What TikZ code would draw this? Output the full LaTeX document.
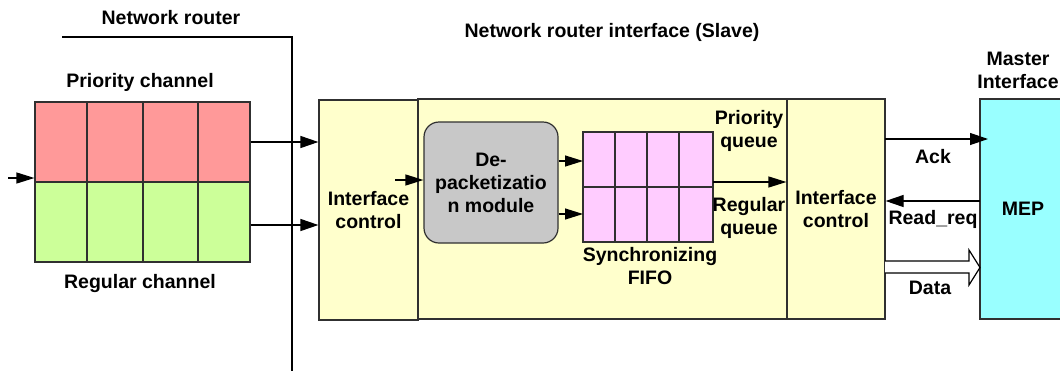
\documentclass[tikz,border=0pt]{standalone}
\usepackage{fontspec}
\setmainfont{Liberation Sans}
\usetikzlibrary{arrows.meta}
\definecolor{chred}{HTML}{FF9999}
\definecolor{chgreen}{HTML}{CCFF99}
\definecolor{boxyellow}{HTML}{FFFFCC}
\definecolor{modgray}{HTML}{C8C8C8}
\definecolor{fifopink}{HTML}{FFCCFF}
\definecolor{mepcyan}{HTML}{99FFFF}
\definecolor{edge}{HTML}{303030}
\tikzset{
  lbl/.style={font=\fontsize{19.5}{23}\selectfont\bfseries, align=center, inner sep=0pt},
  blk/.style={draw=edge, line width=1.2pt, inner sep=0pt, anchor=center},
  arr/.style={line width=1.2pt, -{Triangle[length=18pt,width=12pt]}},
  sarr/.style={line width=1.2pt, -{Triangle[length=18pt,width=11pt]}},
}
\begin{document}
\begin{tikzpicture}[x=1pt,y=-1pt]
\useasboundingbox (0,0) rectangle (1060,370);
\begin{scope}
\clip (0,0) rectangle (1060,370);
% router boundary
\coordinate (r0) at (62,37);
\coordinate (r1) at (292,37);
\coordinate (r2) at (292,372);
\draw[line width=1.2pt] (r0) -- (r1) -- (r2);
\node[lbl] (nr) at (171,18) {Network router};
\node[lbl] (nri) at (612,32) {Network router interface (Slave)};

% channels
\node[blk, fill=chred, minimum width=215pt, minimum height=80pt] (pc) at (142.5,142) {};
\node[blk, fill=chgreen, minimum width=215pt, minimum height=80pt] (rc) at (142.5,222) {};
\foreach \xx in {87,143,198} {
  \draw[line width=1.2pt, edge] (\xx,102) -- (\xx,262);
}
\node[lbl] (pcl) at (140,82) {Priority channel};
\node[lbl] (rcl) at (140,283) {Regular channel};
\coordinate (in0) at (8,178);
\draw[sarr] (in0) -- (in0 -| pc.west);

% interface boxes
\node[blk, fill=boxyellow, minimum width=369pt, minimum height=220pt] (big) at (602.5,209) {};
\node[blk, fill=boxyellow, minimum width=99pt, minimum height=220pt] (ic1) at (368.5,210) {};
\node[blk, fill=boxyellow, minimum width=98pt, minimum height=220pt] (ic2) at (836,209) {};
\node[lbl] at (ic1.center) {Interface\\control};
\node[lbl] at (ic2.center) {Interface\\control};

\draw[arr] (pc.east) -- (pc.east -| ic1.west);
\draw[arr] ([yshift=-3pt]rc.east) -- ([yshift=-3pt]rc.east -| ic1.west);

% depacketization
\node[blk, fill=modgray, rounded corners=15pt, minimum width=134pt, minimum height=121pt, lbl] (dp) at (491,182.5) {De-\\packetizatio\\n module};
\coordinate (d0) at (395,180);
\draw[sarr] (d0) -- (d0 -| dp.west);

% FIFO
\node[blk, fill=fifopink, minimum width=130pt, minimum height=110pt] (ff) at (648,187) {};
\draw[line width=1.2pt, edge] (ff.west) -- (ff.east);
\foreach \xx in {615,647,679} {
  \draw[line width=1.2pt, edge] (\xx,132) -- (\xx,242);
}
\coordinate (f1) at (583,161);
\coordinate (f2) at (583,214);
\draw[sarr] (dp.east |- f1) -- (f1);
\draw[sarr] (dp.east |- f2) -- (f2);
\coordinate (f3) at (713,182);
\draw[sarr] (f3) -- (f3 -| ic2.west);
\node[lbl] (pq) at (749,131) {Priority\\queue};
\node[lbl] (rq) at (749,218) {Regular\\queue};
\node[lbl] (sf) at (650,266) {Synchronizing\\FIFO};

% MEP
\node[blk, fill=mepcyan, minimum width=90pt, minimum height=220pt] (mep) at (1025,209) {};
\node[lbl] (mepl) at (1023,209) {MEP};
\node[lbl] (mi) at (1018,70) {Master\\Interface};

% Ack
\coordinate (a0) at (885,139);
\coordinate (a1) at (988,139);
\draw[arr] (a0) -- (a1);
\node[lbl] (ack) at (933,157) {Ack};
% Read_req
\coordinate (rr) at (980,201);
\draw[arr] (rr) -- (rr -| ic2.east);
\node[lbl] (rql) at (933,219) {Read\_req};
% Data hollow arrow
\draw[line width=1.2pt, fill=white]
  (885,261) -- (969,261) -- (969,250) -- (980,267.5) -- (969,285) -- (969,273) -- (885,273);
\node[lbl] (dat) at (930,288) {Data};
\end{scope}
\end{tikzpicture}
\end{document}
